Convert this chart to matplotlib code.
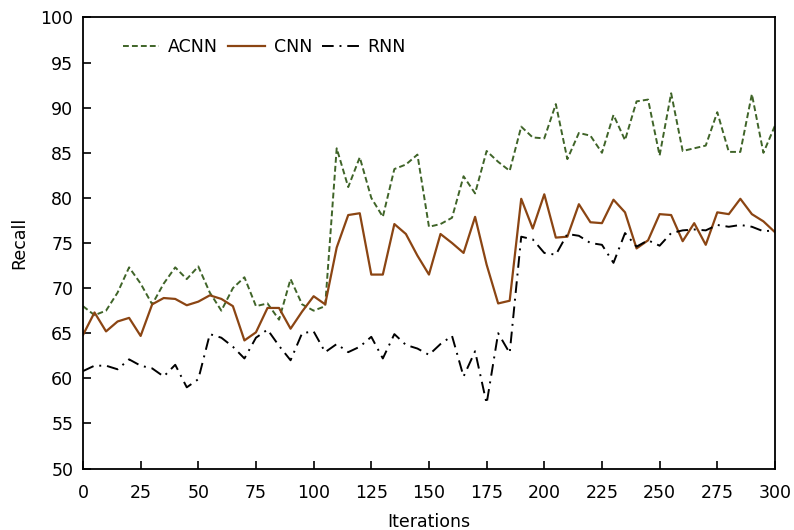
import numpy as np
import matplotlib
matplotlib.use("Agg")
import matplotlib.pyplot as plt

plt.rcParams['font.family'] = ['DejaVu Sans']
plt.rcParams['font.size'] = 12

iterations = list(range(0, 301, 5))

acnn = [68.0, 67.0, 67.5, 69.5, 72.3, 70.5, 68.2, 70.5, 72.3, 71.0,
        72.4, 69.5, 67.5, 70.0, 71.2, 68.0, 68.3, 66.5, 71.0, 68.2,
        67.5, 68.0, 85.5, 81.2, 84.5, 80.0, 77.9, 83.2, 83.7, 84.8,
        76.8, 77.1, 77.8, 82.4, 80.5, 85.2, 84.0, 83.0, 87.9, 86.7,
        86.6, 90.4, 84.3, 87.2, 86.9, 85.0, 89.2, 86.4, 90.7, 90.9,
        84.7, 91.6, 85.2, 85.5, 85.8, 89.5, 85.1, 85.1, 91.5, 85.0,
        88.0]

cnn = [64.8, 67.3, 65.2, 66.3, 66.7, 64.7, 68.2, 68.9, 68.8, 68.1,
       68.5, 69.2, 68.8, 68.0, 64.2, 65.1, 67.8, 67.8, 65.5, 67.4,
       69.1, 68.2, 74.5, 78.1, 78.3, 71.5, 71.5, 77.1, 76.0, 73.6,
       71.5, 76.0, 75.0, 73.9, 77.9, 72.6, 68.3, 68.6, 79.9, 76.6,
       80.4, 75.6, 75.7, 79.3, 77.3, 77.2, 79.8, 78.4, 74.4, 75.3,
       78.2, 78.1, 75.2, 77.2, 74.8, 78.4, 78.2, 79.9, 78.2, 77.4,
       76.2]

rnn = [60.8, 61.4, 61.4, 61.0, 62.1, 61.4, 61.1, 60.2, 61.5, 59.0,
       59.9, 64.9, 64.5, 63.5, 62.2, 64.5, 65.4, 63.6, 62.0, 65.0,
       65.2, 62.9, 63.8, 62.9, 63.5, 64.6, 62.2, 64.9, 63.7, 63.3,
       62.6, 63.8, 64.7, 60.2, 63.0, 57.2, 65.0, 62.8, 75.7, 75.4,
       73.9, 73.7, 76.0, 75.8, 75.0, 74.8, 72.8, 76.1, 74.6, 75.3,
       74.7, 76.1, 76.4, 76.5, 76.4, 77.0, 76.8, 77.0, 76.8, 76.3,
       76.4]

xticks = list(range(0, 301, 25))
yticks = list(range(50, 101, 5))


def main():
    fig = plt.figure(figsize=(7.94, 5.30), dpi=100)
    ax = fig.add_axes([0.1045, 0.116, 0.8715, 0.851])

    ax.plot(iterations, acnn, color="#3f6428", lw=1.4, dashes=(3, 1.6), label="ACNN")
    ax.plot(iterations, cnn, color="#8b4513", lw=1.6, label="CNN")
    ax.plot(iterations, rnn, color="black", lw=1.4, dashes=(6, 3, 1, 3), label="RNN")

    ax.set_xlim(0, 300)
    ax.set_ylim(50, 100)
    ax.set_xticks(xticks)
    ax.set_yticks(yticks)
    ax.tick_params(direction="in", length=6, width=1.2, labelsize=12.5)
    ax.tick_params(axis="x", pad=11.5)
    ax.tick_params(axis="y", pad=7)
    for s in ax.spines.values():
        s.set_linewidth(1.3)
    ax.set_xlabel("Iterations", fontsize=12.5, labelpad=7.5)
    ax.set_ylabel("Recall", fontsize=12.5, labelpad=9)

    ax.legend(loc="upper left", bbox_to_anchor=(0.035, 0.99), ncol=3, frameon=False,
              handlelength=2.1, columnspacing=0.6, handletextpad=0.5, fontsize=12.5)

    fig.savefig("out.png", dpi=100)
    plt.close()


if __name__ == "__main__":
    main()
